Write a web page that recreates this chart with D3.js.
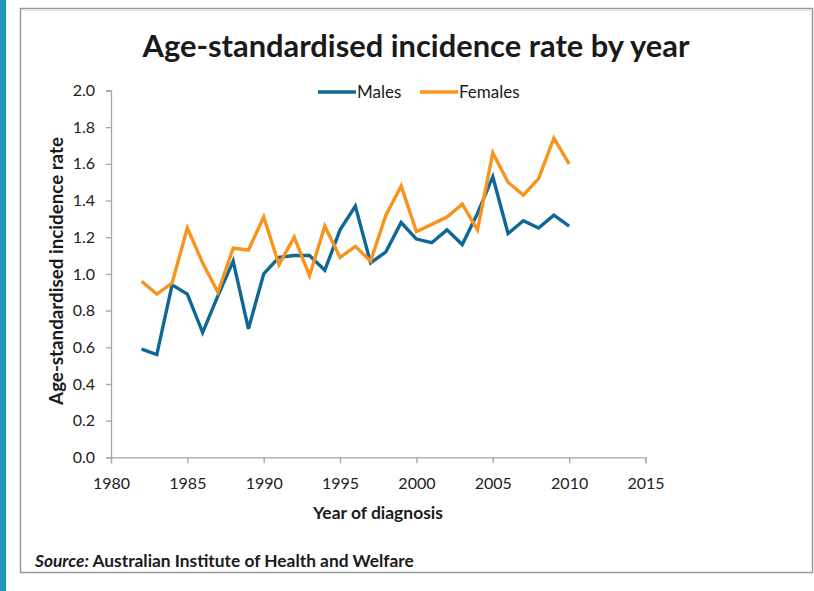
<!DOCTYPE html>
<meta charset="utf-8">
<style>
    body { margin: 0; background: #fff; }
    text { font-family: Lato, "Open Sans", sans-serif; fill: #1a1a1a; }
    .axis path, .axis line { stroke: #a6a6a6; stroke-width: 1.3px; }
    .axis text { font-size: 16px; fill: #222; }
    .line { fill: none; stroke-width: 3.4px; stroke-linejoin: miter; }
</style>
<svg id="svg" width="814" height="591"></svg>
<script src="https://d3js.org/d3.v7.min.js"></script>
<script>

    // chart data
    var years = [1982, 1983, 1984, 1985, 1986, 1987, 1988, 1989, 1990, 1991, 1992, 1993, 1994, 1995, 1996,
                 1997, 1998, 1999, 2000, 2001, 2002, 2003, 2004, 2005, 2006, 2007, 2008, 2009, 2010];
    var males = [0.59, 0.56, 0.94, 0.89, 0.68, 0.88, 1.07, 0.70, 1.00, 1.09, 1.10, 1.10, 1.02, 1.24, 1.37,
                 1.06, 1.12, 1.28, 1.19, 1.17, 1.24, 1.16, 1.33, 1.53, 1.22, 1.29, 1.25, 1.32, 1.26];
    var females = [0.96, 0.89, 0.95, 1.25, 1.06, 0.90, 1.14, 1.13, 1.31, 1.05, 1.20, 0.99, 1.26, 1.09, 1.15,
                   1.07, 1.32, 1.48, 1.23, 1.27, 1.31, 1.38, 1.24, 1.66, 1.50, 1.43, 1.52, 1.74, 1.60];
    var xTicks = [1980, 1985, 1990, 1995, 2000, 2005, 2010, 2015];
    var yTicks = [0, 0.2, 0.4, 0.6, 0.8, 1.0, 1.2, 1.4, 1.6, 1.8, 2.0];
    var seriesNames = ["Males", "Females"];
    var seriesColors = ["#0e6896", "#f7941d"];

    var svg = d3.select("svg");

    // teal strip on the left edge
    svg.append("rect").attr("x", 0).attr("y", 0).attr("width", 6).attr("height", 591).attr("fill", "#2096b9");

    // frame round the chart
    svg.append("rect")
        .attr("x", 20.5).attr("y", 8.5).attr("width", 792).attr("height", 564)
        .attr("fill", "#fff").attr("stroke", "#9a9a9a").attr("stroke-width", 1.5);
    svg.append("line").attr("x1", 21).attr("x2", 812).attr("y1", 10.5).attr("y2", 10.5)
        .attr("stroke", "#e4e4e4").attr("stroke-width", 1);

    var x = d3.scaleLinear().domain([1980, 2015]).range([111, 645.5]);
    var y = d3.scaleLinear().domain([0, 2]).range([457.3, 90.5]);

    // axes
    svg.append("g")
        .attr("class", "axis")
        .attr("transform", "translate(0," + y(0) + ")")
        .call(d3.axisBottom(x).tickValues(xTicks).tickFormat(d3.format("d")).tickSizeOuter(0).tickSize(6).tickPadding(14));

    svg.append("g")
        .attr("class", "axis")
        .attr("transform", "translate(" + x(1980) + ",0)")
        .call(d3.axisLeft(y).tickValues(yTicks).tickFormat(d3.format(".1f")).tickSizeOuter(0).tickSize(5).tickPadding(11));

    // lines
    var data = [males, females];
    var line = d3.line()
        .x(function (d, i) { return x(years[i]); })
        .y(function (d) { return y(d); });

    svg.append("g").selectAll("path")
        .data(data)
        .enter().append("path")
        .attr("class", "line")
        .attr("stroke", function (d, i) { return seriesColors[i]; })
        .attr("d", line);

    // legend
    var legendX = [318, 420];
    var legend = svg.append("g").selectAll("g")
        .data(seriesNames)
        .enter().append("g")
        .attr("transform", function (d, i) { return "translate(" + legendX[i] + ",92)"; });
    legend.append("line")
        .attr("x1", 0).attr("x2", 38).attr("y1", 0).attr("y2", 0)
        .attr("stroke-width", 3.4)
        .attr("stroke", function (d, i) { return seriesColors[i]; });
    legend.append("text")
        .attr("x", 39).attr("y", 6)
        .style("font-size", "17px")
        .text(function (d) { return d; });

    // fit a text element to a width by adjusting its font size
    function fit(sel, w) {
        var len = sel.node().getComputedTextLength();
        var fs = parseFloat(sel.style("font-size"));
        sel.style("font-size", (fs * w / len) + "px");
    }

    var title = svg.append("text")
        .attr("x", 416).attr("y", 57)
        .attr("text-anchor", "middle")
        .style("font-size", "28px").style("font-weight", "bold")
        .text("Age-standardised incidence rate by year");
    fit(title, 547);

    var ylab = svg.append("text")
        .attr("transform", "translate(63,271) rotate(-90)")
        .attr("text-anchor", "middle")
        .style("font-size", "15px").style("font-weight", "bold")
        .text("Age-standardised incidence rate");
    fit(ylab, 268);

    var xlab = svg.append("text")
        .attr("x", 378).attr("y", 519)
        .attr("text-anchor", "middle")
        .style("font-size", "15px").style("font-weight", "bold")
        .text("Year of diagnosis");
    fit(xlab, 130);

    var src = svg.append("text")
        .attr("x", 35).attr("y", 567)
        .style("font-size", "15px").style("font-weight", "bold");
    src.append("tspan").style("font-style", "italic").text("Source:");
    src.append("tspan").text(" Australian Institute of Health and Welfare");
    fit(src, 379);

</script>
